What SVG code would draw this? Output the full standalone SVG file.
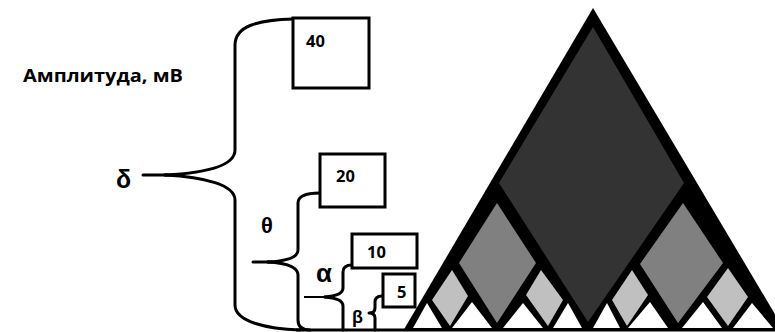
<svg xmlns="http://www.w3.org/2000/svg" width="775" height="332" viewBox="0 0 775 332">
  <style>
    .brace { fill: none; stroke: #000; stroke-width: 3; stroke-linecap: round; stroke-linejoin: round; }
    .stem-thin { fill: none; stroke: #000; stroke-width: 2; }
    .box { fill: #fff; stroke: #000; stroke-width: 3; }
    .num { font-family: "Open Sans", "Liberation Sans", sans-serif; font-weight: bold; font-size: 16.5px; fill: #000; }
    .greek { font-family: "Liberation Sans", "DejaVu Sans", sans-serif; font-weight: bold; fill: #000; }
    .title { font-family: "Open Sans", "Liberation Sans", sans-serif; font-weight: bold; font-size: 17.5px; fill: #000; }
    .dark { fill: #333333; }
    .mid { fill: #808080; }
    .light { fill: #c0c0c0; }
    .white { fill: #ffffff; }
  </style>

  <rect width="775" height="332" fill="#ffffff"/>

  <!-- axis caption -->
  <text class="title" x="23" y="82" textLength="160" lengthAdjust="spacingAndGlyphs">Амплитуда, мВ</text>

  <!-- rhythm brackets -->
  <g id="connectors">
    <!-- delta -->
    <path class="brace" d="M143,175 H168"/>
    <path class="brace" d="M165,175 C205,173 235,166 235,150 V45 C235,26 258,20 293,19"/>
    <path class="brace" d="M165,175 C205,177 235,185 235,200 V305 C235,322 268,329 300,330"/>
    <!-- theta -->
    <path class="brace" d="M253,262 H272"/>
    <path class="brace" d="M268,262 C288,261 298,257 298,250 V203 C298,196 305,193 320,193"/>
    <path class="brace" d="M268,262 C288,263 298,268 298,275 V320 C298,327 302,330 310,330"/>
    <!-- alpha -->
    <path class="stem-thin" d="M304,297 H328"/>
    <path class="brace" d="M325,297 C338,296 343,293 343,288 V272 C343,267 346,265 352,265"/>
    <path class="brace" d="M325,297 C338,298 343,301 343,306 V330"/>
    <!-- beta -->
    <path class="brace" d="M382,296 C377,296 375,298 375,302 V308 C375,311 373,313 369,313 C373,313 375,315 375,318 V330"/>
    <!-- base line -->
    <path d="M296,330 H775" stroke="#000" stroke-width="3" fill="none"/>
  </g>

  <g id="label-delta"><text class="greek" x="116" y="188" font-size="25">δ</text></g>
  <g id="label-theta"><text class="greek" x="261" y="233" font-size="22">θ</text></g>
  <g id="label-alpha"><text class="greek" x="316" y="282" font-size="26">α</text></g>
  <g id="label-beta"><text class="greek" x="352" y="323" font-size="18" font-weight="normal">β</text></g>

  <g id="box-40">
    <rect class="box" x="293" y="18" width="76" height="70"/>
    <text class="num" x="306" y="47">40</text>
  </g>
  <g id="box-20">
    <rect class="box" x="320" y="154" width="65" height="53"/>
    <text class="num" x="336" y="182">20</text>
  </g>
  <g id="box-10">
    <rect class="box" x="352" y="234" width="65" height="34"/>
    <text class="num" x="367" y="258">10</text>
  </g>
  <g id="box-5">
    <rect class="box" x="383" y="274" width="32" height="33"/>
    <text class="num" x="397" y="298">5</text>
  </g>

  <!-- frequency pyramid -->
  <g id="pyramid">
    <polygon fill="#000" points="403,331 593,8 785,331"/>
    <polygon class="dark" points="593,27 684,183 588,322 499,183"/>
    <polygon class="mid" points="497,203 536,263 497,323 459,263"/>
    <polygon class="mid" points="683,203 723,263 678,323 640,264"/>
    <polygon class="light" points="452,270 468,296 450,326 432,300"/>
    <polygon class="light" points="541,270 563,300 548,326 526,295"/>
    <polygon class="light" points="632,270 648,295 627,326 612,300"/>
    <polygon class="light" points="728,268 748,297 728,326 707,297"/>
    <polygon class="white" points="413,328 427,303 442,328"/>
    <polygon class="white" points="452,328 472,302 492,328"/>
    <polygon class="white" points="503,328 523,303 543,328"/>
    <polygon class="white" points="553,328 568,303 582,328"/>
    <polygon class="white" points="593,328 607,303 620,328"/>
    <polygon class="white" points="628,328 650,302 668,328"/>
    <polygon class="white" points="682,328 703,302 722,328"/>
    <polygon class="white" points="733,328 752,303 773,328"/>
  </g>
</svg>
